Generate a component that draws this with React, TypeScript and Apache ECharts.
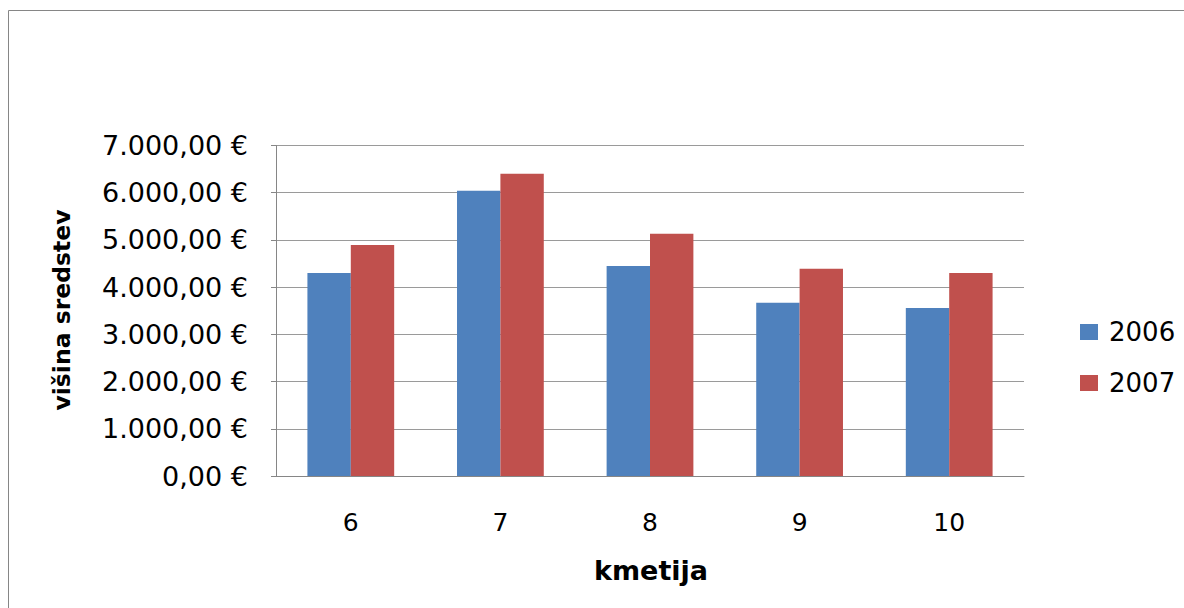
import React, { useEffect, useRef } from "react";
import * as echarts from "echarts";

const categories = ["6", "7", "8", "9", "10"];
const series2006 = [4300, 6040, 4450, 3670, 3560];
const series2007 = [4890, 6400, 5130, 4390, 4300];
const seriesNames = ["2006", "2007"];
const yTitle = "višina sredstev";
const xTitle = "kmetija";

const FONT = "'DejaVu Sans', sans-serif";

function fmt(v: number): string {
  const parts = v.toFixed(2).split(".");
  const intPart = parts[0].replace(/\B(?=(\d{3})+(?!\d))/g, ".");
  return intPart + "," + parts[1] + " €";
}

export default function App() {
  const ref = useRef<HTMLDivElement>(null);
  useEffect(() => {
    if (!ref.current) return;
    const chart = echarts.init(ref.current, null, { renderer: "svg" });
    chart.setOption({
      animation: false,
      backgroundColor: "#ffffff",
      grid: { left: 276, right: 160, top: 145.5, bottom: 132, containLabel: false },
      legend: {
        orient: "vertical",
        left: 1080,
        top: 319,
        padding: 0,
        itemWidth: 18,
        itemHeight: 16,
        itemGap: 25,
        icon: "rect",
        data: seriesNames,
        textStyle: { fontFamily: FONT, fontSize: 26, color: "#000", padding: [0, 0, 0, 6] },
      },
      xAxis: {
        type: "category",
        data: categories,
        axisLine: { lineStyle: { color: "#868686", width: 1 } },
        axisTick: { show: false },
        axisLabel: { fontFamily: FONT, fontSize: 25, color: "#000", margin: 34 },
      },
      yAxis: {
        type: "value",
        min: 0,
        max: 7000,
        interval: 1000,
        axisLine: { show: true, lineStyle: { color: "#868686", width: 1 } },
        axisTick: { show: true, length: 5, lineStyle: { color: "#868686" } },
        splitLine: { lineStyle: { color: "#9a9a9a", width: 1 } },
        axisLabel: {
          fontFamily: FONT,
          fontSize: 27,
          color: "#000",
          margin: 28,
          formatter: (v: number) => fmt(v),
        },
      },
      graphic: [
        {
          type: "rect",
          shape: { x: 8.5, y: 10.5, width: 1400, height: 800 },
          style: { fill: "none", stroke: "#868686", lineWidth: 1 },
          silent: true,
          z: -1,
        },
        {
          type: "text",
          x: 62,
          y: 310,
          rotation: Math.PI / 2,
          style: {
            text: yTitle,
            fontFamily: FONT,
            fontSize: 23.5,
            fontWeight: "bold",
            fill: "#000",
            align: "center",
            verticalAlign: "middle",
          },
        },
        {
          type: "text",
          x: 651,
          y: 570,
          style: {
            text: xTitle,
            fontFamily: FONT,
            fontSize: 27,
            fontWeight: "bold",
            fill: "#000",
            align: "center",
            verticalAlign: "middle",
          },
        },
      ],
      series: [
        {
          name: seriesNames[0],
          type: "bar",
          data: series2006,
          itemStyle: { color: "#4F81BD" },
          barGap: "0%",
          barCategoryGap: "42%",
        },
        {
          name: seriesNames[1],
          type: "bar",
          data: series2007,
          itemStyle: { color: "#C0504D" },
          barGap: "0%",
          barCategoryGap: "42%",
        },
      ],
    });
    return () => chart.dispose();
  }, []);
  return (
    <div
      ref={ref}
      style={{ position: "absolute", left: 0, top: 0, width: 1184, height: 608 }}
    />
  );
}
